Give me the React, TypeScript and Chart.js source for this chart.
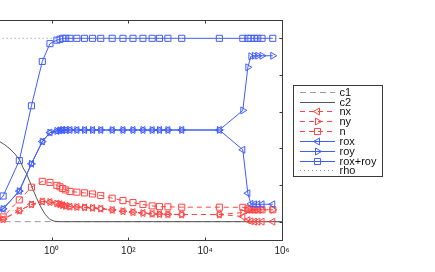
import React, { useEffect, useRef } from 'react';
import { Chart, registerables } from 'chart.js';

Chart.register(...registerables);

// ---- data (x is log-spaced sweep parameter) ----
const xValues = [
  0.025, 0.055, 0.145, 0.3, 0.575, 0.91, 1.38, 1.66, 1.95, 2.34, 3.02, 4.57, 7.24, 11.7, 19.1, 38, 72.4, 132, 240,
  417, 646, 1070, 2450, 23400, 95500, 129000, 155000, 191000, 234000, 302000, 575000,
];
const nxValues = [
  0.003, 0.013, 0.06, 0.094, 0.11, 0.107, 0.099, 0.095, 0.09, 0.086, 0.082, 0.08, 0.078, 0.075, 0.071, 0.064, 0.057,
  0.052, 0.047, 0.043, 0.041, 0.04, 0.039, 0.039, 0.028, 0.008, 0.002, 0.0, 0.0, 0.0, 0.0,
];
const nyValues = [
  0.003, 0.013, 0.06, 0.094, 0.11, 0.107, 0.099, 0.095, 0.09, 0.086, 0.082, 0.08, 0.078, 0.075, 0.071, 0.064, 0.057,
  0.052, 0.047, 0.043, 0.041, 0.04, 0.039, 0.039, 0.05, 0.062, 0.064, 0.065, 0.065, 0.065, 0.065,
];
const nValues = [
  0.005, 0.026, 0.119, 0.188, 0.22, 0.214, 0.198, 0.19, 0.181, 0.173, 0.165, 0.161, 0.157, 0.151, 0.143, 0.128, 0.115,
  0.104, 0.094, 0.086, 0.082, 0.081, 0.079, 0.079, 0.078, 0.07, 0.066, 0.065, 0.065, 0.065, 0.065,
];
const roxValues = [
  0.03, 0.07, 0.167, 0.316, 0.437, 0.486, 0.495, 0.498, 0.5, 0.5, 0.5, 0.5, 0.5, 0.5, 0.5, 0.5, 0.5, 0.5, 0.5, 0.5,
  0.5, 0.5, 0.5, 0.5, 0.392, 0.155, 0.097, 0.095, 0.095, 0.095, 0.095,
];
const royValues = [
  0.03, 0.07, 0.167, 0.316, 0.437, 0.486, 0.495, 0.498, 0.5, 0.5, 0.5, 0.5, 0.5, 0.5, 0.5, 0.5, 0.5, 0.5, 0.5, 0.5,
  0.5, 0.5, 0.5, 0.5, 0.607, 0.842, 0.902, 0.905, 0.905, 0.905, 0.905,
];
const roxRoyValues = [
  0.06, 0.14, 0.333, 0.632, 0.874, 0.971, 0.99, 0.995, 1.0, 1.0, 1.0, 1.0, 1.0, 1.0, 1.0, 1.0, 1.0, 1.0, 1.0, 1.0,
  1.0, 1.0, 1.0, 1.0, 1.0, 1.0, 1.0, 1.0, 1.0, 1.0, 1.0,
];
const c2X = [
  0.01, 0.0251, 0.0454, 0.0612, 0.0826, 0.111, 0.15, 0.183, 0.224, 0.273, 0.333, 0.407, 0.497, 0.67, 0.904, 1.22,
  1.64, 3.16, 1e6,
];
const c2Values = [
  0.48, 0.46, 0.436, 0.419, 0.397, 0.37, 0.334, 0.293, 0.261, 0.217, 0.173, 0.13, 0.089, 0.042, 0.012, 0.002, 0.0,
  0.0, 0.0,
];
const constX = [0.01, 1e6];
const c1Values = [0, 0];
const rhoValues = [1, 1];

const xTickValues = [1e-2, 1e0, 1e2, 1e4, 1e6];
const xTickLabels = ['10⁻²', '10⁰', '10²', '10⁴', '10⁶'];
const yTickValues = [0, 0.2, 0.4, 0.6, 0.8, 1.0];

const BLUE = '#3f5cff';
const RED = '#ff4444';
const FONT = '"Liberation Sans", Arial, Helvetica, sans-serif';

const pts = (xs: number[], ys: number[]) => xs.map((x, i) => ({ x, y: ys[i] }));

function drawMarker(ctx: CanvasRenderingContext2D, style: string, rot: number, x: number, y: number, r: number) {
  ctx.beginPath();
  if (style === 'rect') {
    const s = r * Math.SQRT1_2;
    ctx.rect(x - s, y - s, 2 * s, 2 * s);
  } else if (style === 'triangle') {
    let a = (rot * Math.PI) / 180;
    ctx.moveTo(x + Math.sin(a) * r, y - Math.cos(a) * r);
    a += (2 * Math.PI) / 3;
    ctx.lineTo(x + Math.sin(a) * r, y - Math.cos(a) * r);
    a += (2 * Math.PI) / 3;
    ctx.lineTo(x + Math.sin(a) * r, y - Math.cos(a) * r);
    ctx.closePath();
  }
  ctx.stroke();
}

const framePlugin = {
  id: 'matlabFrame',
  afterDraw(chart: any) {
    const { ctx, chartArea: a, scales } = chart;
    const xs = scales.x;
    const ys = scales.y;
    ctx.save();
    ctx.strokeStyle = '#3a3a3a';
    ctx.lineWidth = 1;
    const L = Math.round(a.left) + 0.5;
    const R = Math.round(a.right) + 0.5;
    const T = Math.round(a.top) + 0.5;
    const B = Math.round(a.bottom) + 0.5;
    ctx.strokeRect(L, T, R - L, B - T);
    ctx.beginPath();
    for (const v of xTickValues) {
      const px = Math.round(xs.getPixelForValue(v)) + 0.5;
      ctx.moveTo(px, B);
      ctx.lineTo(px, B - 3);
      ctx.moveTo(px, T);
      ctx.lineTo(px, T + 3);
    }
    for (const v of yTickValues) {
      const py = Math.round(ys.getPixelForValue(v)) + 0.5;
      ctx.moveTo(R, py);
      ctx.lineTo(R - 3, py);
      ctx.moveTo(L, py);
      ctx.lineTo(L + 3, py);
    }
    ctx.stroke();

    // legend box (MATLAB style, outside the axes)
    const bx = 393.5, by = 85.5, bw = 89, bh = 91;
    ctx.fillStyle = '#ffffff';
    ctx.fillRect(bx, by, bw, bh);
    ctx.strokeStyle = '#3a3a3a';
    ctx.strokeRect(bx, by, bw, bh);
    const dsList = chart.data.datasets;
    const rowH = 9.83;
    ctx.font = `11px ${FONT}`;
    ctx.textBaseline = 'middle';
    ctx.textAlign = 'left';
    dsList.forEach((ds: any, i: number) => {
      const y = Math.round(91.7 + i * rowH) + 0.5;
      ctx.strokeStyle = ds.borderColor;
      ctx.lineWidth = 1;
      ctx.setLineDash(ds.borderDash || []);
      ctx.beginPath();
      ctx.moveTo(400, y);
      ctx.lineTo(435, y);
      ctx.stroke();
      ctx.setLineDash([]);
      if (ds.pointRadius > 0) {
        drawMarker(ctx, ds.pointStyle, ds.pointRotation || 0, 417.5, y, ds.pointRadius);
      }
      ctx.fillStyle = '#111';
      ctx.fillText(ds.label, 439.5, y + 0.5);
    });
    ctx.restore();
  },
};

export default function App() {
  const ref = useRef<HTMLCanvasElement | null>(null);

  useEffect(() => {
    if (!ref.current) return;
    const redBase = { borderColor: RED, borderWidth: 1, borderDash: [5, 4], pointRadius: 4, pointBorderWidth: 1, pointBackgroundColor: 'rgba(0,0,0,0)', pointBorderColor: RED };
    const blueBase = { borderColor: BLUE, borderWidth: 1, borderDash: [], pointRadius: 4, pointBorderWidth: 1, pointBackgroundColor: 'rgba(0,0,0,0)', pointBorderColor: BLUE };
    const datasets: any[] = [
      { label: 'c1', data: pts(constX, c1Values), borderColor: '#9a9a9a', borderWidth: 1, borderDash: [6, 4], pointRadius: 0 },
      { label: 'c2', data: pts(c2X, c2Values), borderColor: '#555555', borderWidth: 1, borderDash: [], pointRadius: 0 },
      { label: 'nx', data: pts(xValues, nxValues), ...redBase, pointStyle: 'triangle', pointRotation: 270 },
      { label: 'ny', data: pts(xValues, nyValues), ...redBase, pointStyle: 'triangle', pointRotation: 90 },
      { label: 'n', data: pts(xValues, nValues), ...redBase, pointStyle: 'rect', pointRotation: 0, pointRadius: 4.3 },
      { label: 'rox', data: pts(xValues, roxValues), ...blueBase, pointStyle: 'triangle', pointRotation: 270 },
      { label: 'roy', data: pts(xValues, royValues), ...blueBase, pointStyle: 'triangle', pointRotation: 90 },
      { label: 'rox+roy', data: pts(xValues, roxRoyValues), ...blueBase, pointStyle: 'rect', pointRotation: 0, pointRadius: 4.3 },
      { label: 'rho', data: pts(constX, rhoValues), borderColor: '#8a8a8a', borderWidth: 1, borderDash: [1, 3], pointRadius: 0 },
    ];
    datasets.forEach((d, i) => {
      d.order = 20 - i;
      d.fill = false;
      d.tension = 0;
    });

    const chart = new Chart(ref.current, {
      type: 'line',
      data: { datasets },
      options: {
        responsive: false,
        animation: false,
        devicePixelRatio: 1,
        layout: { padding: { left: 74.7, right: 153, top: 20, bottom: 0 } },
        plugins: { legend: { display: false }, tooltip: { enabled: false } },
        scales: {
          x: {
            type: 'logarithmic',
            min: 0.01,
            max: 1e6,
            afterBuildTicks: (s: any) => {
              s.ticks = xTickValues.map((v) => ({ value: v }));
            },
            afterFit: (s: any) => {
              s.height = 32;
            },
            grid: { display: false, drawTicks: false },
            border: { display: false },
            ticks: {
              autoSkip: false,
              maxRotation: 0,
              minRotation: 0,
              padding: 5,
              color: '#222',
              font: { family: FONT, size: 10 },
              callback: (_v: any, i: number) => xTickLabels[i],
            },
          },
          y: {
            type: 'linear',
            display: false,
            min: -0.1,
            max: 1.1,
          },
        },
      } as any,
      plugins: [framePlugin],
    });
    return () => chart.destroy();
  }, []);

  return (
    <div style={{ position: 'absolute', left: -100, top: 0, width: 535, height: 272, overflow: 'hidden' }}>
      <canvas ref={ref} width={535} height={272} style={{ display: 'block', width: 535, height: 272 }} />
    </div>
  );
}
